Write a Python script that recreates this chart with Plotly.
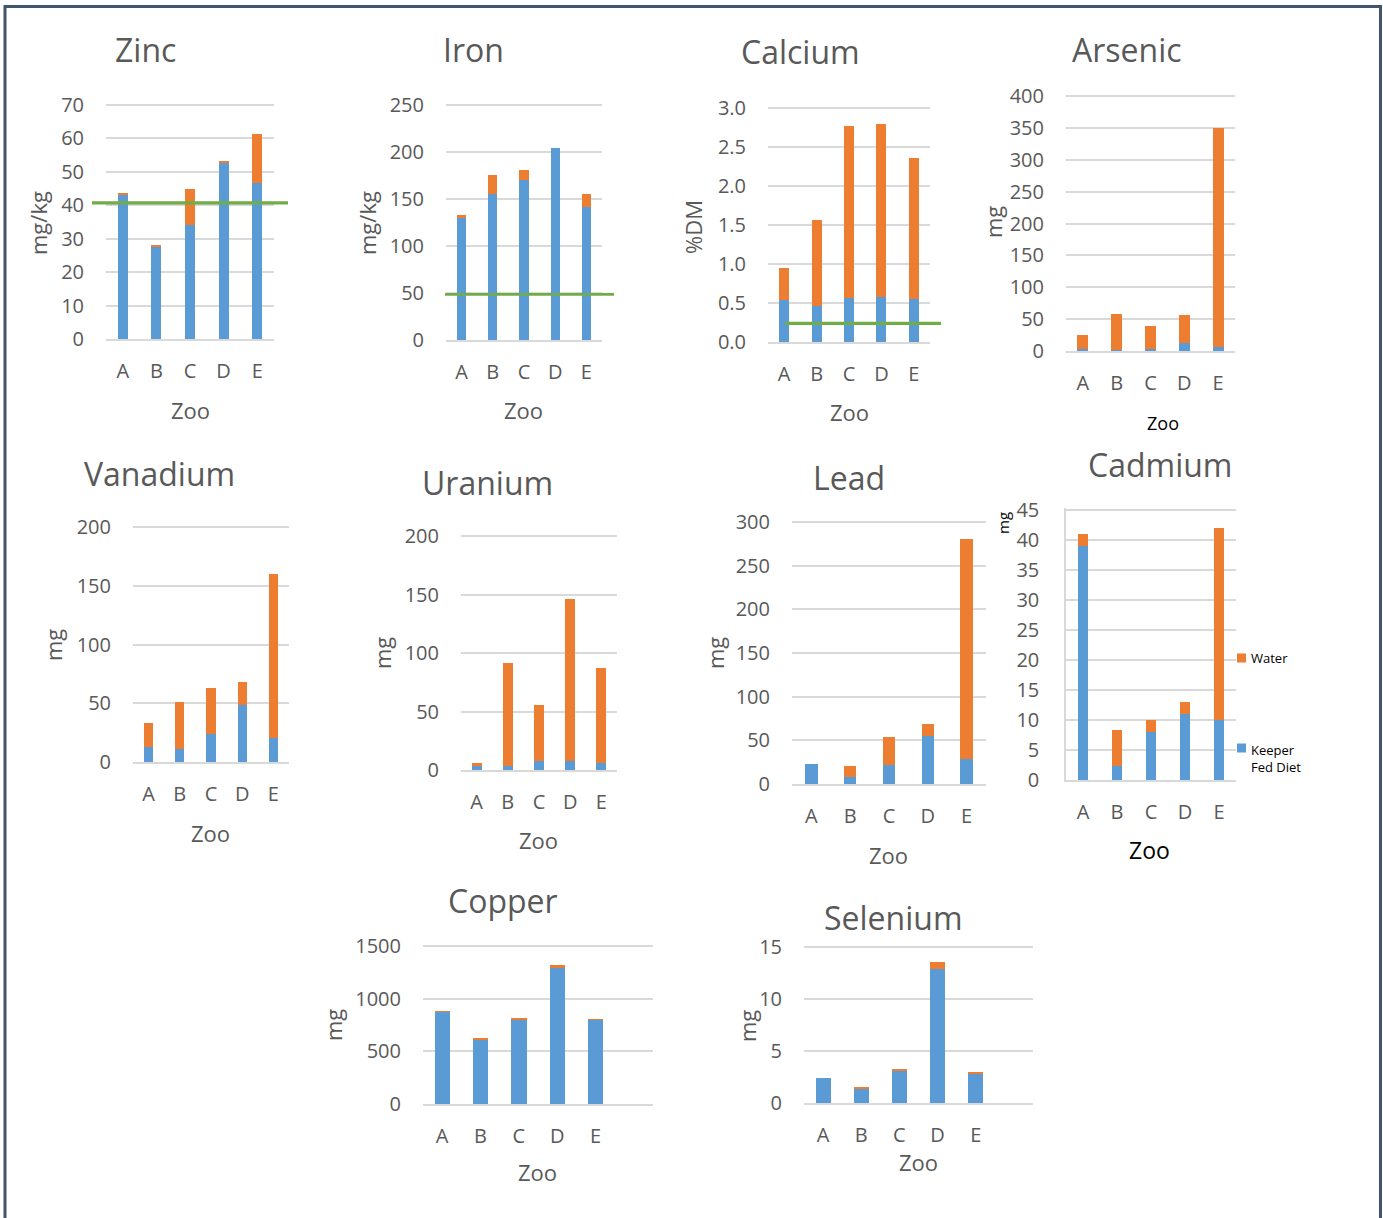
import plotly.graph_objects as go

# ---- data -------------------------------------------------------------
zoos = ["A", "B", "C", "D", "E"]

zinc_keeper = [43.2, 27.6, 34.0, 52.7, 46.8]
zinc_water = [0.4, 0.6, 10.8, 0.3, 14.5]
zinc_guide = 40.7

iron_keeper = [129.5, 155.5, 170.0, 204.5, 141.5]
iron_water = [3.0, 20.5, 11.0, 0.0, 14.0]
iron_guide = 48.5

calcium_keeper = [0.54, 0.46, 0.56, 0.58, 0.55]
calcium_water = [0.41, 1.10, 2.21, 2.21, 1.81]
calcium_guide = 0.24

arsenic_keeper = [3.5, 1.5, 3.5, 12.5, 7.0]
arsenic_water = [22.0, 56.0, 36.0, 44.0, 343.0]

vanadium_keeper = [12.8, 11.0, 23.5, 48.5, 20.5]
vanadium_water = [20.0, 40.0, 39.5, 20.0, 139.8]

uranium_keeper = [3.7, 3.4, 8.0, 8.0, 6.0]
uranium_water = [2.0, 88.0, 47.5, 138.0, 81.0]

lead_keeper = [23.2, 8.5, 21.5, 55.5, 28.2]
lead_water = [0.0, 12.0, 32.0, 13.5, 252.0]

cadmium_keeper = [39.0, 2.4, 8.0, 11.0, 10.0]
cadmium_water = [2.0, 6.0, 2.0, 2.0, 32.0]

copper_keeper = [876, 615, 805, 1297, 800]
copper_water = [2, 5, 6, 18, 5]

selenium_keeper = [2.4, 1.4, 3.15, 12.9, 2.85]
selenium_water = [0.0, 0.15, 0.08, 0.7, 0.1]

# ---- page geometry (pixels) ------------------------------------------
W, H = 1383, 1218
BLUE, ORANGE, GREEN = "#5B9BD5", "#ED7D31", "#70AD47"
GRID = "#D9D9D9"
TXT = "#595959"
FONT = "Open Sans"
HEADROOM = 2  # px of extra axis range so the top gridline is not clipped


def px(x):
    return x / W


def py(y):
    return 1 - y / H


panels = [
    dict(title="Zinc", keeper=zinc_keeper, water=zinc_water, ymax=70, dtick=10, fmt="",
         unit="mg/kg", box=(106, 274, 105, 339), barw=0.30, ncat=5,
         title_xy=(145, 50), unit_xy=(38, 223), zoo_xy=(190, 410),
         guide=zinc_guide, guide_x=(92, 288), guide_w=3.2),
    dict(title="Iron", keeper=iron_keeper, water=iron_water, ymax=250, dtick=50, fmt="",
         unit="mg/kg", box=(446, 602, 105, 340), barw=0.30, ncat=5,
         title_xy=(473, 50), unit_xy=(367, 223), zoo_xy=(523, 410),
         guide=iron_guide, guide_x=(445, 614), guide_w=2.6),
    dict(title="Calcium", keeper=calcium_keeper, water=calcium_water, ymax=3, dtick=0.5, fmt=".1f",
         unit="%DM", box=(768, 930, 108, 342), barw=0.31, ncat=5,
         title_xy=(800, 52), unit_xy=(693, 227), zoo_xy=(849, 412),
         guide=calcium_guide, guide_x=(785, 941), guide_w=3.2),
    dict(title="Arsenic", keeper=arsenic_keeper, water=arsenic_water, ymax=400, dtick=50, fmt="",
         unit="mg", box=(1066, 1235, 96, 351), barw=0.32, ncat=5,
         title_xy=(1127, 50), unit_xy=(993, 222), zoo_xy=(1163, 423), zoo_col="#000000", zoo_size=18),
    dict(title="Vanadium", keeper=vanadium_keeper, water=vanadium_water, ymax=200, dtick=50, fmt="",
         unit="mg", box=(133, 289, 527, 762), barw=0.30, ncat=5,
         title_xy=(159, 473), unit_xy=(53, 645), zoo_xy=(210, 833)),
    dict(title="Uranium", keeper=uranium_keeper, water=uranium_water, ymax=200, dtick=50, fmt="",
         unit="mg", box=(461, 617, 536, 770), barw=0.32, ncat=5,
         title_xy=(487, 482), unit_xy=(382, 653), zoo_xy=(538, 840)),
    dict(title="Lead", keeper=lead_keeper, water=lead_water, ymax=300, dtick=50, fmt="",
         unit="mg", box=(792, 986, 522, 784), barw=0.32, ncat=5,
         title_xy=(849, 477), unit_xy=(715, 653), zoo_xy=(888, 855)),
    dict(title="Cadmium", keeper=cadmium_keeper, water=cadmium_water, ymax=45, dtick=5, fmt="",
         unit="mg", box=(1066, 1236, 510, 780), barw=0.31, ncat=5, yline=True,
         title_xy=(1160, 465), unit_xy=(1003, 523), unit_size=15, unit_col="#000000",
         zoo_xy=(1149, 850), zoo_col="#000000", zoo_size=23),
    dict(title="Copper", keeper=copper_keeper, water=copper_water, ymax=1500, dtick=500, fmt="",
         unit="mg", box=(423, 653, 946, 1104), barw=0.40, ncat=6,
         title_xy=(503, 900), unit_xy=(333, 1025), zoo_xy=(537, 1172)),
    dict(title="Selenium", keeper=selenium_keeper, water=selenium_water, ymax=15, dtick=5, fmt="",
         unit="mg", box=(804, 1033, 947, 1103), barw=0.39, ncat=6,
         title_xy=(893, 917), unit_xy=(747, 1026), zoo_xy=(918, 1162)),
]

fig = go.Figure()
annotations = []
shapes = []

for i, p in enumerate(panels, start=1):
    xa = "x" if i == 1 else f"x{i}"
    ya = "y" if i == 1 else f"y{i}"
    xkey = "xaxis" if i == 1 else f"xaxis{i}"
    ykey = "yaxis" if i == 1 else f"yaxis{i}"
    x0, x1, ytop, ybot = p["box"]
    span = ybot - ytop
    ytop_ext = ytop - HEADROOM
    yrange_max = p["ymax"] * (span + HEADROOM) / span

    fig.add_trace(go.Bar(x=zoos, y=p["keeper"], name="Keeper Fed Diet", marker_color=BLUE,
                         marker_line_width=0, width=p["barw"], xaxis=xa, yaxis=ya,
                         showlegend=False))
    fig.add_trace(go.Bar(x=zoos, y=p["water"], name="Water", marker_color=ORANGE,
                         marker_line_width=0, width=p["barw"], xaxis=xa, yaxis=ya,
                         showlegend=False))

    fig.update_layout(**{
        xkey: dict(domain=[px(x0), px(x1)], anchor=ya, type="category",
                   categoryorder="array", categoryarray=zoos,
                   range=[-0.5, p["ncat"] - 0.5], showgrid=False, zeroline=False,
                   showline=True, linecolor=GRID, linewidth=1.5, ticks="",
                   ticklabelstandoff=13, automargin=False,
                   tickfont=dict(family=FONT, size=20, color=TXT), fixedrange=True),
        ykey: dict(domain=[py(ybot), py(ytop_ext)], anchor=xa, range=[0, yrange_max],
                   dtick=p["dtick"], tick0=0, tickformat=p["fmt"], showgrid=True,
                   gridcolor=GRID, gridwidth=1.5, zeroline=False,
                   showline=p.get("yline", False), linecolor=GRID, linewidth=1.5,
                   ticks="", ticklabelstandoff=21, automargin=False,
                   tickfont=dict(family=FONT, size=20, color=TXT), fixedrange=True),
    })

    # chart title
    tx, ty = p["title_xy"]
    annotations.append(dict(text=p["title"], x=px(tx), y=py(ty), xref="paper", yref="paper",
                            xanchor="center", yanchor="middle", showarrow=False,
                            font=dict(family=FONT, size=32, color=TXT)))
    # value axis title
    ux, uy = p["unit_xy"]
    annotations.append(dict(text=p["unit"], x=px(ux), y=py(uy), xref="paper", yref="paper",
                            xanchor="center", yanchor="middle", showarrow=False, textangle=-90,
                            font=dict(family=FONT, size=p.get("unit_size", 22),
                                      color=p.get("unit_col", TXT))))
    # category axis title
    zx, zy = p["zoo_xy"]
    annotations.append(dict(text="Zoo", x=px(zx), y=py(zy), xref="paper", yref="paper",
                            xanchor="center", yanchor="middle", showarrow=False,
                            font=dict(family=FONT, size=p.get("zoo_size", 22),
                                      color=p.get("zoo_col", TXT))))
    # reference level line
    if "guide" in p:
        gx0, gx1 = p["guide_x"]
        shapes.append(dict(type="line", xref=f"{xa} domain", yref=ya,
                           x0=(gx0 - x0) / (x1 - x0), x1=(gx1 - x0) / (x1 - x0),
                           y0=p["guide"], y1=p["guide"],
                           line=dict(color=GREEN, width=p["guide_w"]), layer="above"))

# legend beside the cadmium chart
legend_items = [("Water", ORANGE, 658, 658), ("Keeper<br>Fed Diet", BLUE, 758, 748)]
for label, col, ly, sq_y in legend_items:
    shapes.append(dict(type="rect", xref="paper", yref="paper",
                       x0=px(1237), x1=px(1246), y0=py(sq_y + 4.5), y1=py(sq_y - 4.5),
                       fillcolor=col, line=dict(width=0)))
    annotations.append(dict(text=label, x=px(1249), y=py(ly), xref="paper", yref="paper",
                            xanchor="left", yanchor="middle", align="left", showarrow=False,
                            font=dict(family=FONT, size=13, color="#000000")))

# outer frame
shapes.append(dict(type="rect", xref="paper", yref="paper",
                   x0=px(5), x1=px(1380.5), y0=py(1240), y1=py(6.5),
                   line=dict(color="#44546A", width=3), fillcolor="rgba(0,0,0,0)",
                   layer="above"))

fig.update_layout(
    width=W, height=H, margin=dict(l=0, r=0, t=0, b=0, autoexpand=False),
    paper_bgcolor="white", plot_bgcolor="white",
    barmode="stack", showlegend=False,
    font=dict(family=FONT, color=TXT),
    annotations=annotations, shapes=shapes,
)

fig.write_html("out.html", config={"displayModeBar": False})
